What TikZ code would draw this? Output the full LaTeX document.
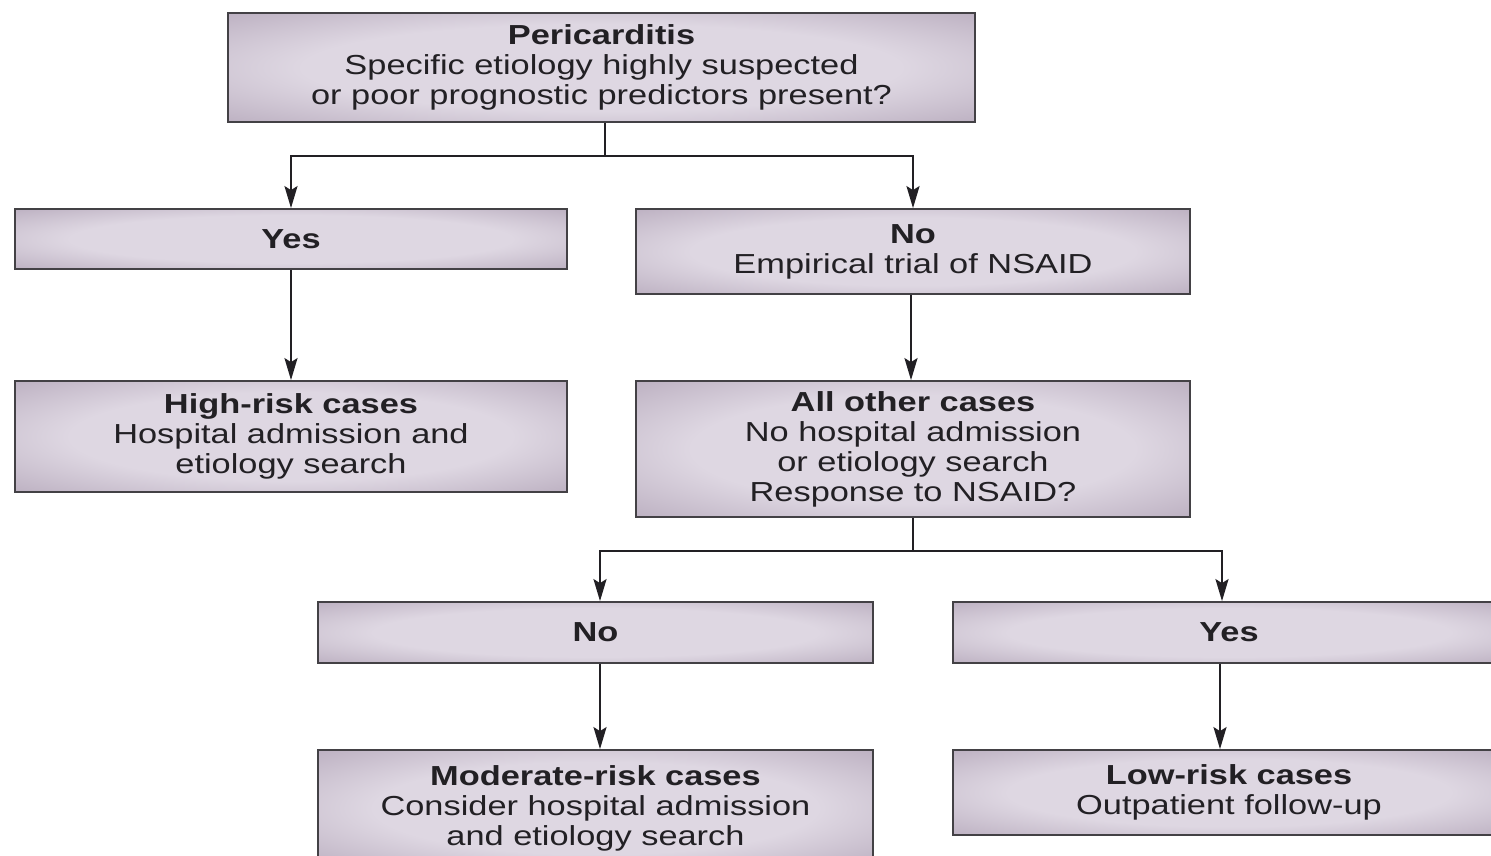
\documentclass[tikz,border=0pt]{standalone}
\usepackage{fontspec}
\setmainfont{Liberation Sans}[FakeStretch=1.25]
\usetikzlibrary{arrows.meta}

\definecolor{boxdark}{RGB}{160,144,166}
\definecolor{boxlite}{RGB}{222,215,226}
\definecolor{ink}{RGB}{34,32,36}

\pgfdeclareradialshading{boxglow}{\pgfpoint{0bp}{0bp}}{%
  color(0bp)=(boxlite); color(20bp)=(boxlite); color(36bp)=(boxdark!55!boxlite);
  color(48bp)=(boxdark); color(100bp)=(boxdark)}

\tikzset{
  flowbox/.style={rectangle, draw=ink!85, line width=1.8pt, shading=boxglow,
    text=ink, align=center, inner sep=0pt,
    font=\fontsize{27.5}{30}\selectfont},
  link/.style={draw=ink, line width=2.2pt},
  arrowlink/.style={link, -{Stealth[length=22pt,width=13pt,inset=4pt]}},
}

\begin{document}
\begin{tikzpicture}[x=1pt, y=-1pt]
\useasboundingbox (0,0) rectangle (1491,855);
\fill[white] (0,0) rectangle (1491,855);
\clip (0,0) rectangle (1491,855);

% first question
\node[flowbox, minimum width=747pt, minimum height=109pt] (top) at (601.5,67.5)
  {\textbf{Pericarditis}\\Specific etiology highly suspected\\or poor prognostic predictors present?};

% first-level answers
\node[flowbox, minimum width=552pt, minimum height=60pt] (yes1) at (291,239)
  {\textbf{Yes}};
\node[flowbox, minimum width=554pt, minimum height=85pt] (no1) at (913,251.5)
  {\textbf{No}\\Empirical trial of NSAID};

% outcomes of the first branch
\node[flowbox, minimum width=552pt, minimum height=111pt] (high) at (291,436.5)
  {\textbf{High-risk cases}\\Hospital admission and\\etiology search};
\node[flowbox, minimum width=554pt, minimum height=136pt] (other) at (913,449)
  {\textbf{All other cases}\\No hospital admission\\or etiology search\\Response to NSAID?};

% response to NSAID
\node[flowbox, minimum width=555pt, minimum height=61pt] (no2) at (595.5,632.5)
  {\textbf{No}};
\node[flowbox, minimum width=552pt, minimum height=61pt] (yes2) at (1229,632.5)
  {\textbf{Yes}};

% final outcomes
\node[flowbox, minimum width=555pt, minimum height=116pt] (mod) at (595.5,808)
  {\textbf{Moderate-risk cases}\\Consider hospital admission\\and etiology search};
\node[flowbox, minimum width=552pt, minimum height=85pt] (low) at (1229,792.5)
  {\textbf{Low-risk cases}\\Outpatient follow-up};

% connectors
\coordinate (split1) at ([xshift=3.5pt, yshift=-33pt]top.south);
\draw[link] ([xshift=3.5pt]top.south) -- (split1);
\draw[arrowlink] (split1) -| (yes1.north);
\draw[arrowlink] (split1) -| (no1.north);

\draw[arrowlink] (yes1.south) -- (high.north);
\draw[arrowlink] ([xshift=-2pt]no1.south) -- ([xshift=-2pt]other.north);

\coordinate (split2) at ([yshift=-33pt]other.south);
\draw[link] (other.south) -- (split2);
\draw[arrowlink] (split2) -| ([xshift=4.5pt]no2.north);
\draw[arrowlink] (split2) -| ([xshift=-7pt]yes2.north);

\draw[arrowlink] ([xshift=4.5pt]no2.south) -- ([xshift=4.5pt]mod.north);
\draw[arrowlink] ([xshift=-9pt]yes2.south) -- ([xshift=-9pt]low.north);
\end{tikzpicture}
\end{document}
